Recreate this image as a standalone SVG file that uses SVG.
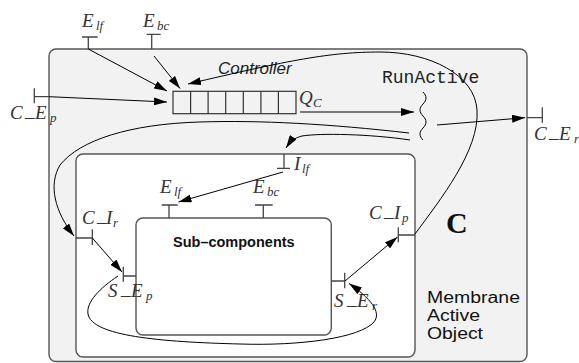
<svg xmlns="http://www.w3.org/2000/svg" width="579" height="363" viewBox="0 0 579 363">
<style>
.box{stroke:#555;stroke-width:1.4}
.port{stroke:#444;stroke-width:1.3;fill:none}
.ln{stroke:#000;stroke-width:1;fill:none}
.arr{marker-end:url(#ah)}
.m{font-family:"Liberation Serif",serif;font-style:italic;font-size:19px;fill:#333}
.s{font-size:13px}
.u{font-style:normal}
.mb{font-family:"Liberation Sans",Arial,sans-serif;font-size:16px;fill:#111}
</style>
<defs>
<marker id="ah" markerUnits="userSpaceOnUse" markerWidth="13" markerHeight="8" refX="13" refY="4" orient="auto">
<path d="M0,0 L13,4 L0,8 z" fill="#000"/>
</marker>
</defs>
<rect width="579" height="363" fill="#fff"/>
<g id="membrane">
<rect class="box" x="49" y="49" width="478" height="312.5" rx="7" fill="#f2f2f2"/>
<text x="446" y="233" font-family="Liberation Serif,serif" font-weight="bold" font-size="30" fill="#111">C</text>
<text class="mb" x="427" y="303" textLength="93" lengthAdjust="spacingAndGlyphs">Membrane</text>
<text class="mb" x="427" y="321" textLength="53" lengthAdjust="spacingAndGlyphs">Active</text>
<text class="mb" x="427" y="339" textLength="56" lengthAdjust="spacingAndGlyphs">Object</text>
</g>
<g id="controller">
<rect x="173" y="91.3" width="123" height="22.4" fill="#f2f2f2" stroke="#333" stroke-width="1.2"/>
<path d="M190.6,91.3V113.7M208.1,91.3V113.7M225.7,91.3V113.7M243.3,91.3V113.7M260.9,91.3V113.7M278.4,91.3V113.7" stroke="#333" stroke-width="1.2"/>
<text x="218" y="74" font-family="Liberation Sans,Arial,sans-serif" font-style="italic" font-size="17" fill="#222">Controller</text>
<text class="m" y="104"><tspan x="299">Q</tspan><tspan x="313" dy="3" class="s">C</tspan></text>
</g>
<g id="runactive">
<text x="382" y="83" font-family="Liberation Mono,monospace" font-size="18" fill="#222">RunActive</text>
<path class="ln" d="M423,92 C427,96 427,100 423,104 C419,108 419,112 423,116 C427,120 427,124 423,128 C419,132 419,136 423,140"/>
</g>
<g id="inner">
<rect class="box" x="76" y="154" width="339" height="203" rx="7" fill="#fff"/>
</g>
<g id="subcomponents">
<rect class="box" x="136" y="218" width="195.3" height="117" rx="7" fill="#fff"/>
<text x="173" y="247" font-family="Liberation Sans,Arial,sans-serif" font-weight="bold" font-size="14.5" fill="#111">Sub–components</text>
</g>
<g id="ports">
<path class="port" d="M82,37H97.6M88.3,37V49"/>
<text class="m" y="27"><tspan x="82">E</tspan><tspan x="96" dy="3" class="s">lf</tspan></text>
<path class="port" d="M146.7,34.3H160.7M151.7,34.3V49"/>
<text class="m" y="27"><tspan x="143">E</tspan><tspan x="157" dy="3" class="s">bc</tspan></text>
<path class="port" d="M34.3,96.7H49M34.3,88.3V103.3"/>
<text class="m" y="119"><tspan x="10">C</tspan><tspan x="25" dy="-2" class="u">_</tspan><tspan x="35" dy="2">E</tspan><tspan x="50" dy="3" class="s">p</tspan></text>
<path class="port" d="M527,117.7H542.3M542.3,107.3V122.7"/>
<text class="m" y="140"><tspan x="534">C</tspan><tspan x="549" dy="-2" class="u">_</tspan><tspan x="559" dy="2">E</tspan><tspan x="574" dy="3" class="s">r</tspan></text>
<path class="port" d="M284,154V168.3M277,168.3H290"/>
<text class="m" y="170"><tspan x="294">I</tspan><tspan x="302" dy="3" class="s">lf</tspan></text>
<path class="port" d="M169,205V218M161.7,205H177.7"/>
<text class="m" y="193"><tspan x="160">E</tspan><tspan x="174" dy="3" class="s">lf</tspan></text>
<path class="port" d="M263.3,205V218M255,205H272.7"/>
<text class="m" y="193"><tspan x="253">E</tspan><tspan x="267" dy="3" class="s">bc</tspan></text>
<path class="port" d="M76,238H92.3M92.3,229.3V245"/>
<text class="m" y="224"><tspan x="82">C</tspan><tspan x="97" dy="-2" class="u">_</tspan><tspan x="106" dy="2">I</tspan><tspan x="113" dy="3" class="s">r</tspan></text>
<path class="port" d="M398.3,235H415M398.3,227.3V242.3"/>
<text class="m" y="219"><tspan x="369">C</tspan><tspan x="384" dy="-2" class="u">_</tspan><tspan x="394" dy="2">I</tspan><tspan x="402" dy="3" class="s">p</tspan></text>
<path class="port" d="M123.3,276H136M123.3,266.7V281.7"/>
<text class="m" y="297"><tspan x="108">S</tspan><tspan x="121" dy="-2" class="u">_</tspan><tspan x="131" dy="2">E</tspan><tspan x="146" dy="3" class="s">p</tspan></text>
<path class="port" d="M331.3,281H344.7M344.7,272.7V288.3"/>
<text class="m" y="307"><tspan x="334">S</tspan><tspan x="347" dy="-2" class="u">_</tspan><tspan x="357" dy="2">E</tspan><tspan x="372" dy="3" class="s">r</tspan></text>
</g>
<g id="connectors">
<path class="ln arr" d="M88.3,49 L167,91"/>
<path class="ln arr" d="M154,56 L180,88.5"/>
<path class="ln arr" d="M49,96.7 L167,102"/>
<path class="ln arr" d="M300,112 L414,112"/>
<path class="ln arr" d="M437,125 L525,117.7"/>
<path class="ln arr" d="M409,133 C330,124 260,120 200,122 C130,124 80,140 60,165 C48,185 55,212 74,236"/>
<path class="ln arr" d="M410,140 C370,134 320,133 302,136 C294,138 290,142 286,148"/>
<path class="ln arr" d="M283,172 L178.5,202"/>
<path class="ln arr" d="M92.3,238 L122,272"/>
<path class="ln arr" d="M345,281 L397.5,237"/>
<path class="ln arr" d="M415,234 C440,200 480,150 477,110 C475,75 430,52 380,52 C330,52 290,60 188,84"/>
<path class="ln arr" d="M118,276 C100,288 86,302 88,314 C92,336 160,342 240,344 C300,346 360,338 374,322 C382,312 370,298 349,283.5"/>
</g>
</svg>
